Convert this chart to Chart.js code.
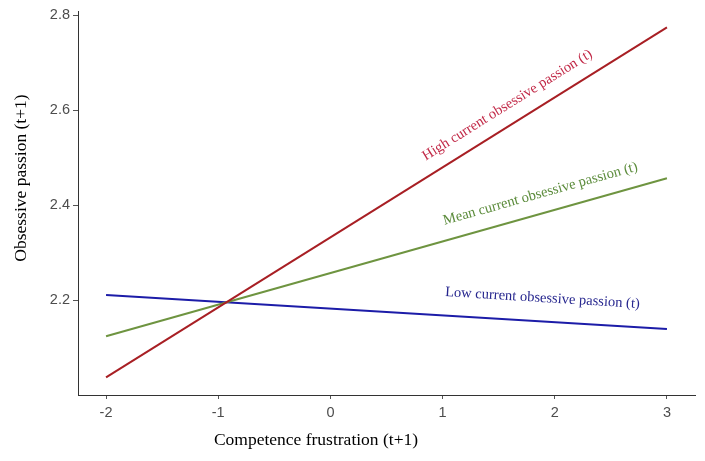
<!DOCTYPE html>
<html>
<head>
<meta charset="utf-8">
<script src="https://cdn.jsdelivr.net/npm/chart.js@4/dist/chart.umd.min.js"></script>
<style>
  html, body { margin: 0; padding: 0; background: #fff; }
  #wrap { width: 705px; height: 461px; }
</style>
</head>
<body>
<div id="wrap"><canvas id="c" width="705" height="461"></canvas></div>
<script>
// Simple slopes: obsessive passion (t+1) predicted from competence frustration (t+1)
const frustration = [-2, 3];
const highOP = [2.037, 2.775];
const meanOP = [2.124, 2.457];
const lowOP = [2.211, 2.139];

const xTicks = [-2, -1, 0, 1, 2, 3];
const yTicks = [2.2, 2.4, 2.6, 2.8];

const seriesNames = [
  'High current obsessive passion (t)',
  'Mean current obsessive passion (t)',
  'Low current obsessive passion (t)'
];

// where each line label sits, in data units (x, y)
const labelAnchors = [
  [1.578, 2.611],
  [1.872, 2.424],
  [1.890, 2.204]
];

const lineColors = ['#a81f24', '#6e9440', '#1c1ca8'];
const textColors = ['#c22a48', '#5c8c3c', '#26268e'];

function toPoints(xs, ys) {
  return xs.map((x, i) => ({ x: x, y: ys[i] }));
}

const lineLabels = {
  id: 'lineLabels',
  afterDatasetsDraw(chart) {
    const { ctx, scales: { x, y } } = chart;
    ctx.save();
    ctx.font = '14.5px "Liberation Serif", "Times New Roman", serif';
    ctx.textAlign = 'center';
    ctx.textBaseline = 'middle';
    chart.data.datasets.forEach((ds, i) => {
      const p0 = ds.data[0], p1 = ds.data[ds.data.length - 1];
      const ang = Math.atan2(y.getPixelForValue(p1.y) - y.getPixelForValue(p0.y),
                             x.getPixelForValue(p1.x) - x.getPixelForValue(p0.x));
      const px = x.getPixelForValue(labelAnchors[i][0]);
      const py = y.getPixelForValue(labelAnchors[i][1]);
      ctx.save();
      ctx.translate(px, py);
      ctx.rotate(ang);
      ctx.fillStyle = textColors[i];
      ctx.fillText(seriesNames[i], 0, 0);
      ctx.restore();
    });
    ctx.restore();
  }
};

const axisTitles = {
  id: 'axisTitles',
  afterDraw(chart) {
    const ctx = chart.ctx;
    ctx.save();
    ctx.font = '17.5px "Liberation Serif", "Times New Roman", serif';
    ctx.fillStyle = '#000';
    ctx.textAlign = 'center';
    ctx.textBaseline = 'middle';
    ctx.fillText('Competence frustration (t+1)', 316, 440);
    ctx.translate(21, 178);
    ctx.rotate(-Math.PI / 2);
    ctx.fillText('Obsessive passion (t+1)', 0, 0);
    ctx.restore();
  }
};

const tickFont = { family: '"Liberation Sans", Arial, sans-serif', size: 14.5 };

new Chart(document.getElementById('c'), {
  type: 'line',
  data: {
    datasets: [highOP, meanOP, lowOP].map((vals, i) => ({
      label: seriesNames[i],
      data: toPoints(frustration, vals),
      borderColor: lineColors[i],
      borderWidth: 2,
      pointRadius: 0,
      tension: 0,
      fill: false
    }))
  },
  options: {
    responsive: false,
    animation: false,
    devicePixelRatio: 1,
    layout: { padding: { left: 0, top: 11, right: 10, bottom: 0 } },
    plugins: { legend: { display: false }, tooltip: { enabled: false } },
    scales: {
      x: {
        type: 'linear',
        min: -2.25,
        max: 3.25,
        afterBuildTicks(scale) { scale.ticks = xTicks.map(v => ({ value: v })); },
        afterFit(scale) { scale.height = 66; },
        ticks: {
          color: '#4d4d4d',
          font: tickFont,
          padding: 5,
          maxRotation: 0,
          callback: v => String(v)
        },
        grid: { drawOnChartArea: false, drawTicks: true, tickLength: 4, color: '#555', lineWidth: 1 },
        border: { display: true, color: '#333', width: 1 }
      },
      y: {
        type: 'linear',
        min: 2.0,
        max: 2.808,
        afterBuildTicks(scale) { scale.ticks = yTicks.map(v => ({ value: v })); },
        afterFit(scale) { scale.width = 78; },
        ticks: {
          color: '#4d4d4d',
          font: tickFont,
          padding: 3,
          callback: v => v.toFixed(1)
        },
        grid: { drawOnChartArea: false, drawTicks: true, tickLength: 5, color: '#555', lineWidth: 1 },
        border: { display: true, color: '#333', width: 1 }
      }
    }
  },
  plugins: [lineLabels, axisTitles]
});
</script>
</body>
</html>
